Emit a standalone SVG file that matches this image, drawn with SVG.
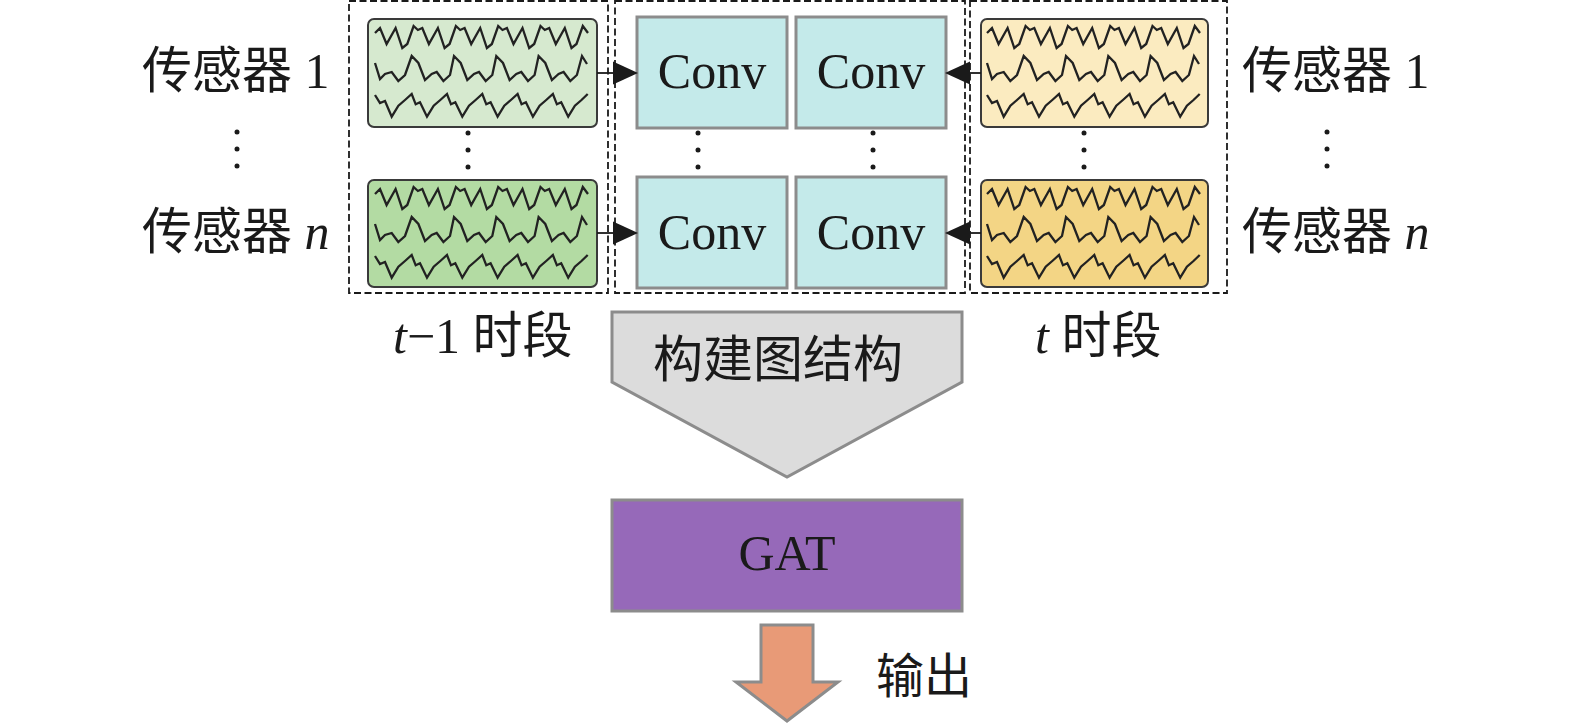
<svg xmlns="http://www.w3.org/2000/svg" xmlns:xlink="http://www.w3.org/1999/xlink" width="1575" height="725" viewBox="0 0 1575 725">
<style>
.txt{font-family:"Liberation Serif","Noto Sans CJK SC",serif;font-size:50px;fill:#1a1a1a}
.it{font-style:italic}
.dash{fill:none;stroke:#1a1a1a;stroke-width:1.8;stroke-dasharray:7 3.5}
.sig{stroke:#3a3a3a;stroke-width:2;rx:6}
.wave{fill:none;stroke:#222;stroke-width:2.3;stroke-linejoin:miter}
.conv{fill:#c4eaea;stroke:#8c8c8c;stroke-width:3}
.dot{fill:#1a1a1a}
.conn{stroke:#1a1a1a;stroke-width:1.8;fill:none}
.head{fill:#1a1a1a}
</style>
<defs>
<g id="wave">
<path class="wave" d="M7,14 L12,9 18.6,25 27.6,9 34.3,29 39.3,25 45.6,7 49.9,11 54.3,9 60.9,25 69.9,9 76.6,29 81.6,25 87.9,7 92.2,11 96.6,9 103.2,25 112.2,9 118.9,29 123.9,25 130.2,7 134.5,11 138.9,9 145.5,25 154.5,9 161.2,29 166.2,25 172.5,7 176.8,11 181.2,9 187.8,25 196.8,9 203.5,29 208.5,25 214.8,7 220,14"/>
<path class="wave" d="M7,44 L12,60 17,55 23.7,53 30.3,62 37,56 43.7,37 50.4,44 57,61 63.7,55 68.7,53 75.4,62 82,56 86,37 92.7,44 99.3,61 106,55 111,53 117.7,62 124.3,56 128.3,37 135,44 141.6,61 148.3,55 153.3,53 160,62 166.6,56 170.6,37 177.3,44 183.9,61 190.6,55 195.6,53 202.3,62 208.9,56 214,37 219,45"/>
<path class="wave" d="M7,76 L12,84 17,82 23.7,97.7 30.4,86.7 37,81 43.7,75 47.7,85.3 52,83.3 59,97.7 65.7,86.7 72.3,81 79,75 83,85.3 87.3,83.3 94.3,97.7 101,86.7 107.6,81 114.3,75 118.3,85.3 122.6,83.3 129.6,97.7 136.3,86.7 142.9,81 149.6,75 153.6,85.3 157.9,83.3 164.9,97.7 171.6,86.7 178.2,81 184.9,75 188.9,85.3 193.2,83.3 200.2,97.7 206.9,86.7 213.5,81 219.7,75"/>
</g>
</defs>
<rect width="1575" height="725" fill="#ffffff"/>

<g id="frames">
<rect class="dash" x="349" y="1" width="259" height="292"/>
<rect class="dash" x="615" y="1" width="350" height="292"/>
<rect class="dash" x="970" y="1" width="257" height="292"/>
</g>

<g id="labels-left">
<text class="txt" x="142" y="88">传感器 1</text>
<circle class="dot" cx="237" cy="132" r="2.5"/><circle class="dot" cx="237" cy="149" r="2.5"/><circle class="dot" cx="237" cy="166" r="2.5"/>
<text class="txt" x="142" y="249">传感器 <tspan class="it">n</tspan></text>
</g>
<g id="labels-right">
<text class="txt" x="1242" y="88">传感器 1</text>
<circle class="dot" cx="1327" cy="132" r="2.5"/><circle class="dot" cx="1327" cy="149" r="2.5"/><circle class="dot" cx="1327" cy="166" r="2.5"/>
<text class="txt" x="1242" y="249">传感器 <tspan class="it">n</tspan></text>
</g>

<g id="sig-t1-1">
<rect class="sig" x="368" y="19" width="229" height="108" fill="#d6e9cf"/>
<use xlink:href="#wave" href="#wave" x="368" y="19"/>
</g>
<g id="sig-t1-n">
<rect class="sig" x="368" y="180" width="229" height="107" fill="#b3dba3"/>
<use xlink:href="#wave" href="#wave" x="368" y="180"/>
</g>
<g id="dots-t1">
<circle class="dot" cx="468" cy="133" r="2.5"/><circle class="dot" cx="468" cy="150" r="2.5"/><circle class="dot" cx="468" cy="167" r="2.5"/>
</g>

<g id="sig-t-1">
<rect class="sig" x="981" y="19" width="227" height="108" fill="#fbebc0"/>
<use xlink:href="#wave" href="#wave" x="980" y="19"/>
</g>
<g id="sig-t-n">
<rect class="sig" x="981" y="180" width="227" height="107" fill="#f3d585"/>
<use xlink:href="#wave" href="#wave" x="980" y="180"/>
</g>
<g id="dots-t">
<circle class="dot" cx="1084" cy="133" r="2.5"/><circle class="dot" cx="1084" cy="150" r="2.5"/><circle class="dot" cx="1084" cy="167" r="2.5"/>
</g>

<g id="conv-1a"><rect class="conv" x="637" y="17" width="150" height="111"/><text class="txt" x="712" y="88" text-anchor="middle">Conv</text></g>
<g id="conv-1b"><rect class="conv" x="796" y="17" width="150" height="111"/><text class="txt" x="871" y="88" text-anchor="middle">Conv</text></g>
<g id="conv-na"><rect class="conv" x="637" y="177" width="150" height="111"/><text class="txt" x="712" y="249" text-anchor="middle">Conv</text></g>
<g id="conv-nb"><rect class="conv" x="796" y="177" width="150" height="111"/><text class="txt" x="871" y="249" text-anchor="middle">Conv</text></g>
<g id="dots-conv">
<circle class="dot" cx="698" cy="133" r="2.5"/><circle class="dot" cx="698" cy="150" r="2.5"/><circle class="dot" cx="698" cy="167" r="2.5"/>
<circle class="dot" cx="873" cy="133" r="2.5"/><circle class="dot" cx="873" cy="150" r="2.5"/><circle class="dot" cx="873" cy="167" r="2.5"/>
</g>

<g id="period-labels">
<text class="txt" x="393" y="353"><tspan class="it">t</tspan>−1 时段</text>
<text class="txt" x="1035" y="353"><tspan class="it">t</tspan> 时段</text>
</g>

<g id="build-graph">
<polygon points="612,312 962,312 962,382 787,477 612,382" fill="#dcdcdc" stroke="#8c8c8c" stroke-width="3"/>
<text class="txt" x="778" y="377" text-anchor="middle">构建图结构</text>
</g>

<g id="gat">
<rect x="612" y="500" width="350" height="111" fill="#9669b9" stroke="#8c8c8c" stroke-width="3"/>
<text class="txt" x="787" y="570" text-anchor="middle">GAT</text>
</g>

<g id="output">
<polygon points="761,625 813,625 813,682 838,682 787,721 736,682 761,682" fill="#e89a77" stroke="#8c8c8c" stroke-width="3"/>
<text class="txt" x="876" y="693" style="font-size:48px">输出</text>
</g>

<g id="connectors">
<line class="conn" x1="597" y1="73" x2="615" y2="73"/>
<polygon class="head" points="613,61.5 638,73 613,84.5"/>
<line class="conn" x1="597" y1="233" x2="615" y2="233"/>
<polygon class="head" points="613,221.5 638,233 613,244.5"/>
<line class="conn" x1="968" y1="73" x2="981" y2="73"/>
<polygon class="head" points="970,61.5 945,73 970,84.5"/>
<line class="conn" x1="968" y1="233" x2="981" y2="233"/>
<polygon class="head" points="970,221.5 945,233 970,244.5"/>
</g>
</svg>
